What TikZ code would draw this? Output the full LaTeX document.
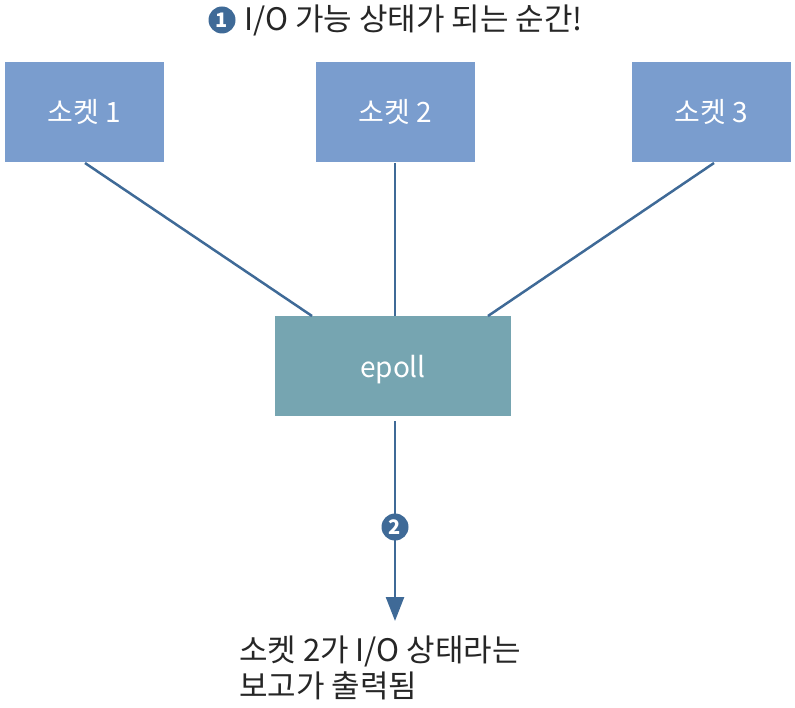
\documentclass[tikz,border=0pt]{standalone}
\usepackage{fontspec}
\setmainfont{Noto Sans CJK KR}
\usetikzlibrary{arrows.meta}
\definecolor{sockfill}{HTML}{7A9DCE}
\definecolor{epfill}{HTML}{76A5B1}
\definecolor{linec}{HTML}{3F6A97}
\tikzset{
  sockbox/.style={fill=sockfill, minimum width=159pt, minimum height=100pt, inner sep=0pt, text=white, font=\fontsize{28}{32}\selectfont},
  epbox/.style={fill=epfill, minimum width=236pt, minimum height=100pt, inner sep=0pt, text=white, font=\fontsize{28}{32}\selectfont},
  conn/.style={draw=linec, line width=2.5pt},
  numc/.style={circle, fill=linec, text=white, inner sep=0pt, minimum size=27pt, font=\bfseries\fontsize{20}{20}\selectfont},
  lbl/.style={font=\fontsize{31}{36}\selectfont, text=black!85, inner sep=0pt}
}
\begin{document}
\begin{tikzpicture}[x=1pt,y=-1pt]
\useasboundingbox (0,0) rectangle (795,708);
\node[sockbox] (s1) at (84.5,112) {소켓 1};
\node[sockbox] (s2) at (395.5,112) {소켓 2};
\node[sockbox] (s3) at (711,112) {소켓 3};
\node[epbox] (ep) at (393,366) {};
\node[text=white, font=\fontsize{28}{32}\selectfont, inner sep=0pt] (eplbl) at (393,370) {epoll};
\coordinate (c1) at (85,163);
\coordinate (e1) at (312,316);
\coordinate (c2) at (395,163);
\coordinate (e2) at (395,316);
\coordinate (c3) at (714,163);
\coordinate (e3) at (488,316);
\draw[conn] (c1) -- (e1);
\draw[conn] (c2) -- (e2);
\draw[conn] (c3) -- (e3);
\coordinate (a0) at (395,421);
\coordinate (a1) at (395,621);
\draw[conn, -{Triangle[length=24pt,width=18pt]}] (a0) -- (a1);
\node[numc] (n2) at (395,527) {2};
\node[numc] (n1) at (222,20) {1};
\node[lbl, anchor=west] (t1) at (244,20) {I/O 가능 상태가 되는 순간!};
\node[lbl, anchor=north west, align=left] (t2) at (239,636) {소켓 2가 I/O 상태라는\\보고가 출력됨};
\end{tikzpicture}
\end{document}
